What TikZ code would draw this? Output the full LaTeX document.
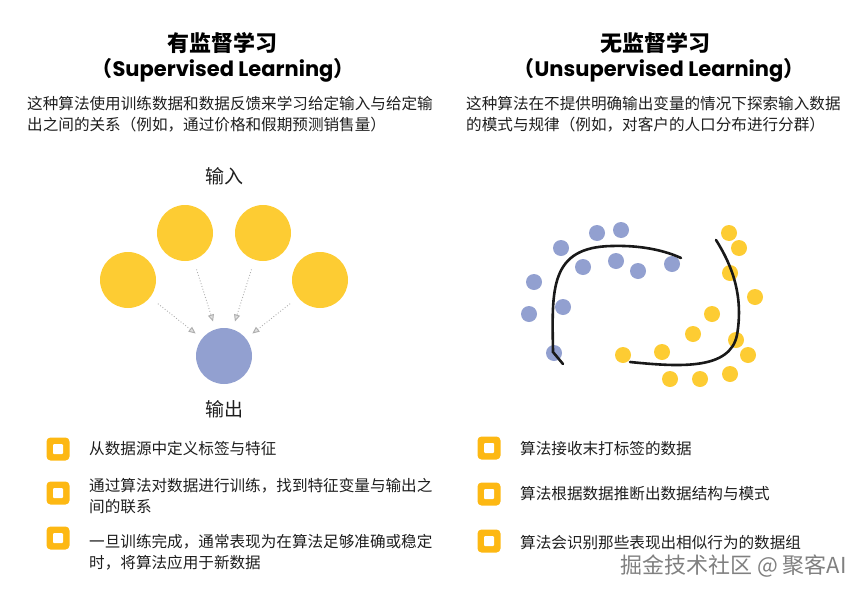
\documentclass[tikz,border=0pt]{standalone}
\usepackage{fontspec}
\setmainfont{Noto Sans CJK SC}
\newfontfamily\poppins{Poppins}
\usetikzlibrary{arrows.meta}
\definecolor{dotyellow}{HTML}{FDCC33}
\definecolor{dotblue}{HTML}{92A0D0}
\definecolor{boxyellow}{HTML}{FDB813}
\definecolor{inktext}{HTML}{1E1E1E}
\newcommand\cjkparen[1]{{\rmfamily #1}}

\begin{document}
\begin{tikzpicture}[
			x=1pt, y=-1pt,
			>={Triangle[length=7pt,width=6pt,fill=black!12]},
			title node/.style={font=\fontsize{22pt}{26pt}\selectfont\bfseries, text=black},
			subtitle node/.style={font=\fontsize{21pt}{25pt}\selectfont\poppins\bfseries, text=black},
			text node/.style={font=\fontsize{15.6pt}{21pt}\selectfont, text=inktext, align=left, inner sep=0pt, anchor=base west},
			io node/.style={font=\fontsize{19pt}{22pt}\selectfont, text=inktext},
			input dot/.style={circle, fill=dotyellow, minimum size=56pt, inner sep=0pt},
			output dot/.style={circle, fill=dotblue, minimum size=56pt, inner sep=0pt},
			feed/.style={->, draw=black!32, dotted, line width=0.9pt, shorten <=10pt, shorten >=8pt},
			tick box/.style={
				fill=boxyellow, rounded corners=4pt, minimum size=23pt, inner sep=0pt,
				path picture={\fill[white, rounded corners=1pt]
					([shift={(-5pt,-5pt)}]path picture bounding box.center) rectangle
					([shift={(5pt,5pt)}]path picture bounding box.center);}
			},
			cluster line/.style={draw=black!90, line width=2.6pt, line cap=round}
			]
			\useasboundingbox (0,0) rectangle (866,597);
			
			% titles
			\node[title node] (sup) at (222,43) {有监督学习};
			\node[subtitle node] (supen) at (223,70) {\cjkparen{（}Supervised Learning\cjkparen{）}};
			\node[title node] (unsup) at (655,43) {无监督学习};
			\node[subtitle node] (unsupen) at (659,70) {\cjkparen{（}Unsupervised Learning\cjkparen{）}};
			
			% base anchor sits on the last line
			\node[text node] (supdesc) at (27,130) {这种算法使用训练数据和数据反馈来学习给定输入与给定输\\出之间的关系（例如，通过价格和假期预测销售量）};
			\node[text node] (unsupdesc) at (466,130) {这种算法在不提供明确输出变量的情况下探索输入数据\\的模式与规律（例如，对客户的人口分布进行分群）};
			
			% supervised: inputs to output
			\node[io node] (inlabel) at (224,176) {输入};
			\node[input dot] (in1) at (128,280) {};
			\node[input dot] (in2) at (185,233) {};
			\node[input dot] (in3) at (263,233) {};
			\node[input dot] (in4) at (320,280) {};
			\node[output dot] (out) at (224,356) {};
			\node[io node] (outlabel) at (224,409) {输出};
			
			\foreach \i in {1,...,4}
				\draw[feed] (in\i) -- (out);
			
			% unsupervised: clusters
			\foreach \p in {(597,233),(621,230),(561,248),(583,267),(616,261),(638,271),(672,264),
				(534,282),(563,307),(529,314),(554,353)}
				\fill[dotblue] \p circle (8pt);
			\foreach \p in {(729,233),(739,248),(730,273),(755,297),(712,314),(693,334),(736,340),
				(748,355),(662,352),(623,355),(670,379),(700,379),(730,374)}
				\fill[dotyellow] \p circle (8pt);
			
			\draw[cluster line] (563,364) -- (553,352) .. controls (552,290) and (549,247) .. (612,246)
				.. controls (645,245) and (668,252) .. (681,258);
			\draw[cluster line] (716,240) .. controls (735,270) and (743,300) .. (737,335)
				.. controls (730,370) and (680,367) .. (630,362);
			
			% bullet lists
			\node[tick box] (l1) at (58,449) {};
			\node[tick box] (l2) at (58,493) {};
			\node[tick box] (l3) at (58,538) {};
			\node[text node] (lt1) at (89,454) {从数据源中定义标签与特征};
			\node[text node] (lt2) at (89,512) {通过算法对数据进行训练，找到特征变量与输出之\\间的联系};
			\node[text node] (lt3) at (89,568) {一旦训练完成，通常表现为在算法足够准确或稳定\\时，将算法应用于新数据};
			
			\node[tick box] (r1) at (489,448) {};
			\node[tick box] (r2) at (489,494) {};
			\node[tick box] (r3) at (489,541) {};
			\node[text node] (rt1) at (520,454) {算法接收末打标签的数据};
			\node[text node] (rt2) at (520,499) {算法根据数据推断出数据结构与模式};
			\node[text node] (rt3) at (520,548) {算法会识别那些表现出相似行为的数据组};
			
			\node[font=\fontsize{22pt}{24pt}\selectfont, text=black!50, anchor=base east, inner sep=0pt] (mark) at (847,573) {掘金技术社区 @ 聚客AI};
		\end{tikzpicture}
\end{document}
